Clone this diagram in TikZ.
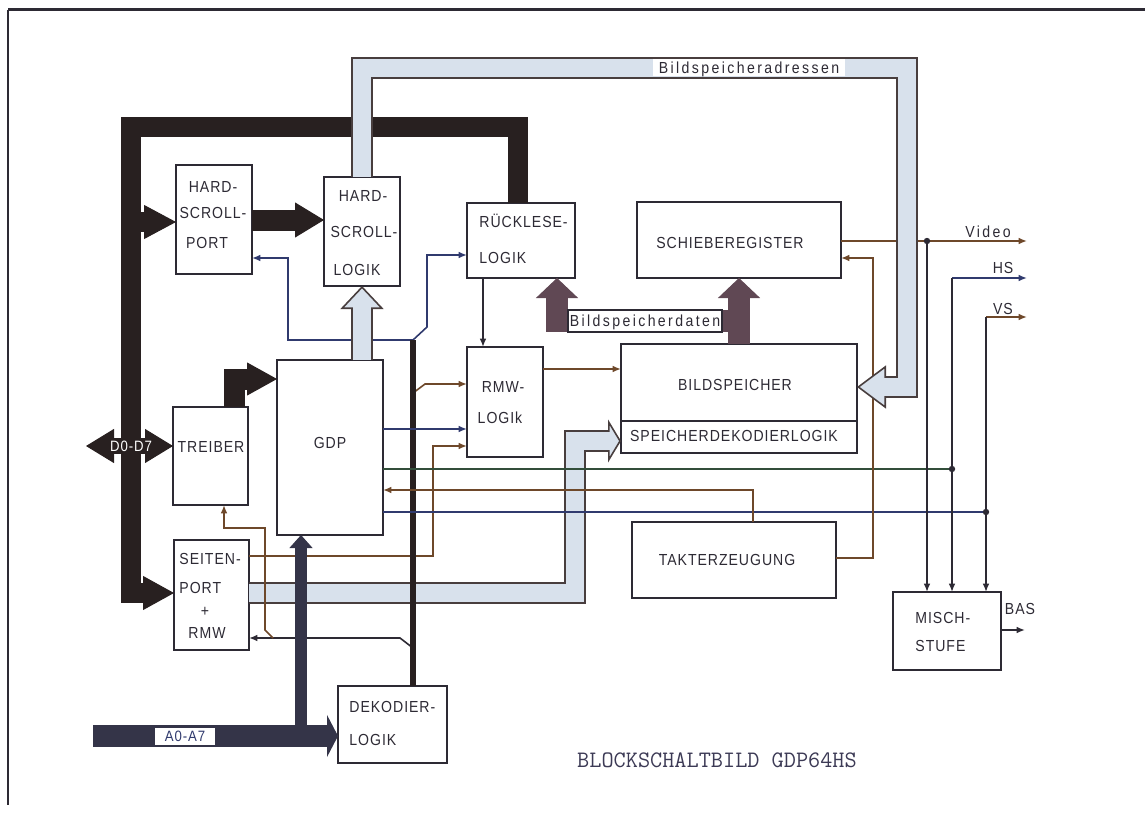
\documentclass[tikz,border=0pt]{standalone}
\usepackage{fontspec}
\setmainfont{Liberation Sans}
\newfontfamily\din[FakeStretch=0.88,LetterSpace=6]{Liberation Sans}
\newfontfamily\dinw[FakeStretch=0.88,LetterSpace=15]{Liberation Sans}
\usetikzlibrary{arrows.meta,calc}
\definecolor{ink}{RGB}{45,42,52}
\definecolor{inkb}{RGB}{48,58,110}
\definecolor{inkr}{RGB}{110,72,42}
\definecolor{inkg}{RGB}{50,78,58}
\definecolor{dbus}{RGB}{40,32,32}
\definecolor{abusF}{RGB}{216,225,236}
\definecolor{abusO}{RGB}{72,62,62}
\definecolor{bdF}{RGB}{96,72,84}
\definecolor{aaF}{RGB}{52,52,72}
\definecolor{titlec}{RGB}{60,58,85}
\begin{document}
\begin{tikzpicture}[x=0.5pt,y=-0.5pt,
  box/.style={draw=ink, line width=0.75pt, inner sep=0pt, outer sep=0pt, rectangle},
  txt/.style={font=\din\fontsize{8}{9}\selectfont, text=ink, inner sep=0pt, text height=5.7pt, text depth=0pt},
  wtxt/.style={font=\dinw\fontsize{8}{9}\selectfont, text=ink, inner sep=0pt, text height=5.7pt, text depth=0pt},
  sig/.style={draw=#1, line width=0.8pt}, sig/.default=ink,
  arr/.style={-{Latex[length=4.2pt,width=3.4pt]}},
  bundle/.style={draw=dbus, line width=2.6pt},
  dS/.style={draw=dbus, line width=10pt, line join=miter},
  dT/.style={draw=dbus, line width=0.5pt},
  aS/.style={draw=aaF, line width=11pt, line join=miter},
  aT/.style={draw=aaF, line width=0.5pt},
  bdS/.style={draw=bdF, line width=11pt, line join=miter},
  bdT/.style={draw=bdF, line width=0.5pt},
  lbO/.style={draw=abusO, line width=11pt, line join=miter},
  lbT/.style={draw=abusO, line width=0.8pt},
  lbF/.style={draw=abusF, line width=9pt, line join=miter, shorten >=-1pt},
  lab/.style={fill=white, inner sep=0pt, text height=5.7pt, text depth=0pt}
]
\useasboundingbox (0,0) rectangle (1145,813);
% frame
\draw[line width=1.5pt, ink] (8,10) -- (1145,10);
\draw[line width=0.8pt, ink] (8,10) -- (8,805);

% boxes
\node[box, minimum width=38pt, minimum height=54.5pt] (hsp) at (214,219.5) {};
\node[box, minimum width=38pt, minimum height=54.5pt] (hsl) at (362,231.5) {};
\node[box, minimum width=54pt, minimum height=37.5pt] (rl) at (521,240.5) {};
\node[box, minimum width=102pt, minimum height=38pt] (sr) at (739,240) {};
\node[box, minimum width=118pt, minimum height=54.5pt] (bs) at (739,398.5) {};
\node[box, minimum width=38pt, minimum height=55pt] (rmw) at (505,402) {};
\node[box, minimum width=53pt, minimum height=87.5pt] (gdp) at (330,447.5) {};
\node[box, minimum width=37.5pt, minimum height=49pt] (tr) at (210.5,456) {};
\node[box, minimum width=37.5pt, minimum height=55pt] (sp) at (211.5,595) {};
\node[box, minimum width=54.5pt, minimum height=38.5pt] (dek) at (392.5,724.5) {};
\node[box, minimum width=102pt, minimum height=38pt] (tak) at (734,560) {};
\node[box, minimum width=54pt, minimum height=39pt] (mis) at (947,631) {};
\coordinate (bsdiv) at (0,421);
\draw[draw=ink, line width=0.75pt] (bs.west |- bsdiv) -- (bs.east |- bsdiv);

% box texts
\node[txt] (thspa) at (213,187) {HARD-};
\node[txt] (thspb) at (213,213) {SCROLL-};
\node[txt] (thspc) at (207,243) {PORT};
\node[txt] (thsla) at (363,196) {HARD-};
\node[txt] (thslb) at (364,232) {SCROLL-};
\node[txt] (thslc) at (357,270) {LOGIK};
\node[txt, anchor=west] (trla) at (479,222) {RÜCKLESE-};
\node[txt, anchor=west] (trlb) at (479,258) {LOGIK};
\node[txt] (tsr) at (730,243) {SCHIEBEREGISTER};
\node[txt] (tbsa) at (735,385) {BILDSPEICHER};
\node[txt] (tbsb) at (734,436) {SPEICHERDEKODIERLOGIK};
\node[txt] (trmwa) at (503,387) {RMW-};
\node[txt] (trmwb) at (500,418) {LOGIk};
\node[txt] (tgdp) at (330,443) {GDP};
\node[txt] (ttr) at (211,447) {TREIBER};
\node[txt, anchor=west] (tspa) at (179,559) {SEITEN-};
\node[txt, anchor=west] (tspb) at (179,588) {PORT};
\node[txt] (tspc) at (205,611) {+};
\node[txt] (tspd) at (207,633) {RMW};
\node[txt, anchor=west] (tdeka) at (349,707) {DEKODIER-};
\node[txt, anchor=west] (tdekb) at (349,740) {LOGIK};
\node[txt] (ttak) at (727,560) {TAKTERZEUGUNG};
\node[txt, anchor=west] (tmisa) at (915,618) {MISCH-};
\node[txt, anchor=west] (tmisb) at (915,646) {STUFE};

% address bus from SEITEN-PORT (under signal lines)
\draw[lbO] (sp.east |- 0,593) -- (575,593) -- (575,441) -- (608,441);
\draw[lbT, -{Triangle[length=6.5pt,width=21.5pt,fill=abusF]}] (608,441) -- (bs.west |- 0,441);
\draw[lbF] (sp.east |- 0,593) -- (575,593) -- (575,441) -- (608,441);

% decoder bundle and its branches
\coordinate (k1) at (413,340);
\coordinate (k2) at (413,393);
\coordinate (k3) at (413,648);
\coordinate (k4) at (273,638);
\draw[sig=inkb, arr] (k1) -- (288,340) -- (288,258) -- (hsp.east |- 0,258);
\draw[sig=inkb, arr] (k1) -- (427,327) -- (427,255) -- (rl.west |- 0,255);
\draw[sig=inkr, arr] (k2) -- (425,384) -- (rmw.west |- 0,384);
\draw[sig, arr] (k3) -- (400,638) -- (sp.east |- 0,638);
\draw[sig=inkr, arr] (k4) -- (265,630) -- (265,528) -- (224,528) -- (tr.south -| 224,0);
\draw[sig=inkr, arr] (sp.east |- 0,556) -- (433,556) -- (433,446) -- (rmw.west |- 0,446);
\draw[bundle] (k1 |- dek.north) -- (k1);

% GDP signals
\coordinate (hsj) at (952,469);
\coordinate (vsj) at (986,512);
\draw[sig=inkb, arr] (gdp.east |- 0,429) -- (rmw.west |- 0,429);
\draw[sig=inkg] (gdp.east |- 0,469) -- (hsj);
\draw[sig=inkb] (gdp.east |- 0,512) -- (vsj);
\draw[sig=inkr, arr] (tak.north -| 753,0) -- (753,490) -- (gdp.east |- 0,490);
\draw[sig=inkr, arr] (rmw.east |- 0,369) -- (bs.west |- 0,369);
\draw[sig, arr] (rl.south -| 483,0) -- (rmw.north -| 483,0);

% outputs
\coordinate (vj) at (927,241);
\coordinate (hsj0) at (952,278);
\coordinate (vsj0) at (986,317);
\coordinate (vidout) at (1027,241);
\coordinate (hsout) at (1027,278);
\coordinate (vsout) at (1027,317);
\coordinate (basout) at (1025,630);
\draw[sig=inkr, arr] (sr.east |- vj) -- (vidout);
\draw[sig, arr] (vj) -- (mis.north -| vj);
\draw[sig=inkb, arr] (hsj0) -- (hsout);
\draw[sig, arr] (hsj0) -- (mis.north -| hsj0);
\draw[sig=inkr, arr] (vsj0) -- (vsout);
\draw[sig, arr] (vsj0) -- (mis.north -| vsj0);
\draw[sig=inkr, arr] (tak.east |- 0,558) -- (873,558) -- (873,258) -- (sr.east |- 0,258);
\draw[sig, arr] (mis.east |- basout) -- (basout);
\fill[ink] (vj) circle (1.6pt);
\fill[ink] (hsj) circle (1.6pt);
\fill[ink] (vsj) circle (1.6pt);

% data bus D0-D7
\draw[dS] (rl.north -| 517.5,0) -- (517.5,127) -- (131,127) -- (131,593) -- (143,593);
\draw[dT, -{Triangle[length=15.5pt,width=17pt]}] (143,593) -- (sp.west |- 0,593);
\draw[dS] (131,222) -- (144,222);
\draw[dT, -{Triangle[length=16pt,width=17pt]}] (144,222) -- (hsp.west |- 0,222);
\coordinate (dleft) at (86,446);
\draw[dS, line width=8pt] (114,446) -- (145,446);
\draw[dT, -{Triangle[length=14pt,width=17pt]}] (114,446) -- (dleft);
\draw[dT, -{Triangle[length=14pt,width=17pt]}] (145,446) -- (tr.west |- 0,446);
\node[font=\din\fontsize{7.5}{9}\selectfont, text=white, inner sep=0pt] (dlab) at (131,446) {D0-D7};
\draw[dS, line width=10.5pt] (tr.north -| 234,0) -- (234,379) -- (247,379);
\draw[dT, -{Triangle[length=15pt,width=16.5pt]}] (247,379) -- (gdp.west |- 0,379);
\draw[dS, line width=10.5pt] (hsp.east |- 0,220) -- (295,220);
\draw[dT, -{Triangle[length=14.5pt,width=17.5pt]}] (295,220) -- (hsl.west |- 0,220);

% address bus A0-A7
\coordinate (a0) at (93,736);
\draw[aS] (a0) -- (327,736);
\draw[aT, -{Triangle[length=5.5pt,width=21pt]}] (327,736) -- (dek.west |- 0,736);
\draw[aS, line width=6pt] (301,736) -- (301,548);
\draw[aT, -{Triangle[length=6.5pt,width=11.5pt]}] (301,548) -- (gdp.south -| 301,0);
\node[lab, font=\din\fontsize{7.5}{9}\selectfont, text=inkb, minimum width=30pt, minimum height=8.5pt] (a0lab) at (185,736) {A0-A7};

% Bildspeicherdaten
\draw[bdS] (bs.north -| 739,0) -- (739,298);
\draw[bdT, -{Triangle[length=10pt,width=21pt]}] (739,298) -- (sr.south -| 739,0);
\draw[bdS] (739,321) -- (557,321) -- (557,298);
\draw[bdT, -{Triangle[length=10pt,width=21pt]}] (557,298) -- (rl.south -| 557,0);
\node[lab, draw=ink, line width=0.6pt, font=\dinw\fontsize{8}{9}\selectfont, text=ink, minimum width=77pt, minimum height=11pt] (bsdlab) at (645,321) {Bildspeicherdaten};

% Bildspeicheradressen
\draw[lbO] (hsl.north -| 362,0) -- (362,68) -- (907,68) -- (907,387) -- (886,387);
\draw[lbT, -{Triangle[length=14.5pt,width=21.5pt,fill=abusF]}] (886,387) -- (bs.east |- 0,387);
\draw[lbF] (hsl.north -| 362,0) -- (362,68) -- (907,68) -- (907,387) -- (886,387);
\node[lab, font=\dinw\fontsize{8}{9}\selectfont, text=ink, minimum height=8.5pt, inner xsep=3pt] (bsalab) at (749,68) {Bildspeicheradressen};
\draw[lbO] (gdp.north -| 362,0) -- (362,309);
\draw[lbT, -{Triangle[length=11.5pt,width=21.5pt,fill=abusF]}] (362,309) -- (hsl.south -| 362,0);
\draw[lbF] (gdp.north -| 362,0) -- (362,309);

% output labels
\node[wtxt] (tvid) at (988,232) {Video};
\node[txt] (ths) at (1003,268) {HS};
\node[txt] (tvs) at (1003,309) {VS};
\node[txt] (tbas) at (1020,609) {BAS};

% title
\node[font=\ttfamily\fontsize{11.8}{14}\selectfont, text=titlec, inner sep=0pt] (title) at (717,760) {BLOCKSCHALTBILD GDP64HS};
\end{tikzpicture}
\end{document}
